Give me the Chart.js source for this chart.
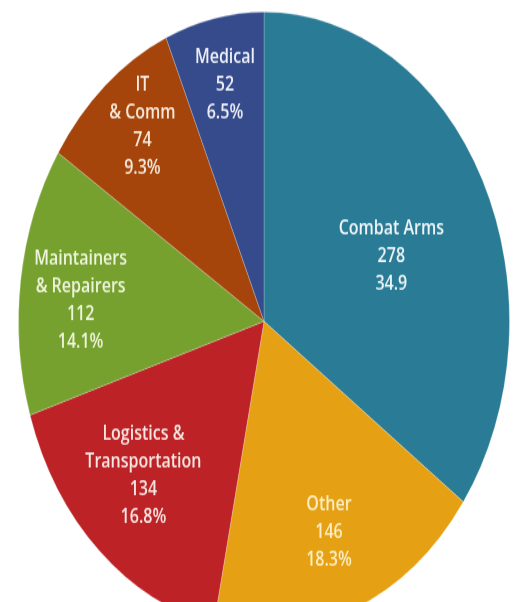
<!DOCTYPE html>
<html>
<head>
<meta charset="utf-8">
<script src="https://cdn.jsdelivr.net/npm/chart.js@4.4.1/dist/chart.umd.min.js"></script>
<style>
  html, body { margin: 0; padding: 0; background: #ffffff; overflow: hidden; }
  #wrap { width: 519px; height: 602px; overflow: hidden; position: relative; background: #fff; }
  #c { position: absolute; left: 0; top: 0; transform-origin: 0 0; transform: scaleY(1.26); }
</style>
</head>
<body>
<div id="wrap"><canvas id="c" width="519" height="510"></canvas></div>
<script>
// ---- data ----
const categories = ["Combat Arms", "Other", "Logistics &\nTransportation", "Maintainers\n& Repairers", "IT\n& Comm", "Medical"];
const counts = [278, 146, 134, 112, 74, 52];
const percentLabels = ["34.9", "18.3%", "16.8%", "14.1%", "9.3%", "6.5%"];

// ---- style ----
const sliceColors = ["#2a7b96", "#e5a013", "#bd2226", "#76a12f", "#a5450c", "#354b8c"];
const labelRadius = [0.56, 0.73, 0.70, 0.75, 0.80, 0.78];
const labelAngleShift = [5, 0, 2.5, -2.6, 2, 0];
const labelColors = ["#eef6f8", "#fbeec4", "#f8e8e4", "#eef5dc", "#f7eadc", "#eef0f8"];

const labelPlugin = {
  id: 'sliceLabels',
  afterDatasetsDraw(chart) {
    const ctx = chart.ctx;
    const meta = chart.getDatasetMeta(0);
    ctx.save();
    ctx.font = '600 16px "Open Sans", sans-serif';
    ctx.textAlign = 'center';
    ctx.textBaseline = 'middle';
    meta.data.forEach((arc, i) => {
      const p = arc.getProps(['x', 'y', 'startAngle', 'endAngle', 'outerRadius'], true);
      const mid = (p.startAngle + p.endAngle) / 2 + labelAngleShift[i] * Math.PI / 180;
      const r = p.outerRadius * labelRadius[i];
      const cx = p.x + Math.cos(mid) * r;
      const cy = p.y + Math.sin(mid) * r;
      const lines = categories[i].split('\n').concat([String(counts[i]), percentLabels[i]]);
      const lh = 22;
      const y0 = cy - (lines.length - 1) * lh / 2;
      ctx.fillStyle = labelColors[i];
      lines.forEach((t, j) => ctx.fillText(t, cx, y0 + j * lh));
    });
    ctx.restore();
  }
};

new Chart(document.getElementById('c'), {
  type: 'pie',
  data: {
    labels: categories,
    datasets: [{
      data: counts,
      backgroundColor: sliceColors,
      borderColor: 'rgba(255,255,255,0.22)',
      borderWidth: 1
    }]
  },
  options: {
    responsive: false,
    animation: false,
    layout: { padding: { left: 18, right: 9, top: 9, bottom: 9 } },
    plugins: { legend: { display: false }, tooltip: { enabled: false } }
  },
  plugins: [labelPlugin]
});
</script>
</body>
</html>
